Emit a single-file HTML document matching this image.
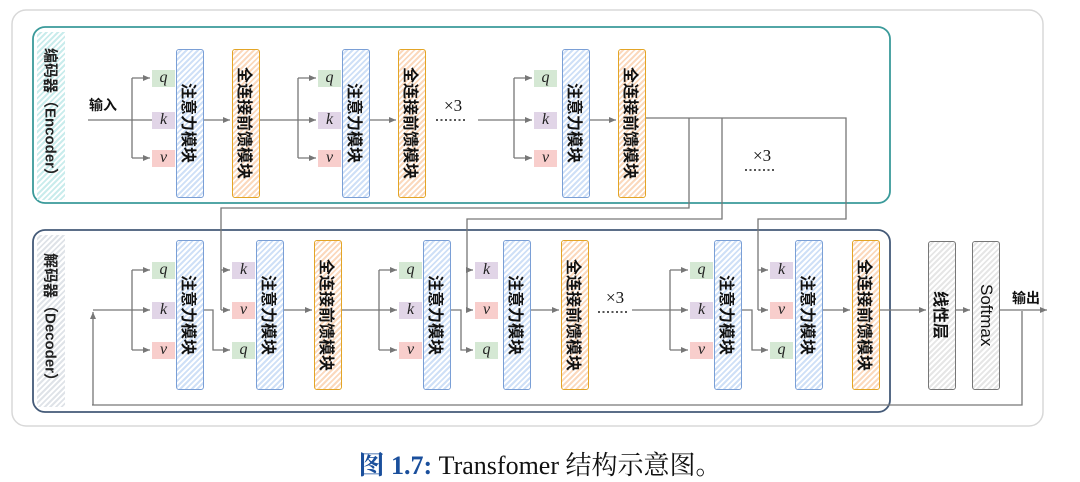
<!DOCTYPE html>
<html><head><meta charset="utf-8"><style>
body{margin:0;background:#fff;width:1080px;height:482px;position:relative;overflow:hidden;font-family:"Liberation Sans","Noto Sans CJK SC",sans-serif}
.b{position:absolute;box-sizing:border-box;border-radius:3px;writing-mode:vertical-rl;text-orientation:sideways;display:flex;align-items:center;justify-content:center;font-size:16px;font-weight:bold;color:#111;letter-spacing:0px}
.at{border:1.5px solid #7a9fd6;background:repeating-linear-gradient(135deg,#fff 0 2px,#cfe0f7 2px 4px)}
.ff{border:1.5px solid #e3a526;background:repeating-linear-gradient(135deg,#fff 0 2px,#fbd9bd 2px 4px)}
.gr{border:1.5px solid #777;background:repeating-linear-gradient(135deg,#fff 0 2px,#e6e6e6 2px 4px)}
.l{position:absolute;width:23px;height:17px;font-family:"Liberation Serif",serif;font-style:italic;font-size:16px;text-align:center;line-height:16px;color:#222}
.q{background:#d5e8d4}.k{background:#e1d5e7}.v{background:#f8cecc}
.side{position:absolute;writing-mode:vertical-rl;text-orientation:sideways;font-size:15px;font-weight:bold;display:flex;align-items:center;justify-content:center;color:#222}
.t{position:absolute;font-size:14px;font-weight:bold;color:#111}
.x3{position:absolute;font-family:"Liberation Serif",serif;font-size:17px;color:#111}
</style></head><body>
<svg width="1080" height="482" style="position:absolute;left:0;top:0">
<defs><marker id="a" markerWidth="8" markerHeight="8" refX="7" refY="4" orient="auto" markerUnits="userSpaceOnUse"><path d="M0,1 L7,4 L0,7 z" fill="#777"/></marker></defs>
<rect x="12" y="10" width="1031" height="416" rx="14" fill="none" stroke="#d8d8d8" stroke-width="1.5"/>
<rect x="33" y="27" width="857" height="176" rx="12" fill="none" stroke="#3a9a9a" stroke-width="1.8"/>
<rect x="33" y="230" width="857" height="182" rx="12" fill="none" stroke="#445a78" stroke-width="1.8"/>
<g stroke="#777" stroke-width="1.3" fill="none">
<path d="M88 120H160" marker-end="url(#a)"/><path d="M132 78V158"/><path d="M132 78H150" marker-end="url(#a)"/><path d="M132 158H150" marker-end="url(#a)"/>
<path d="M204 120H230" marker-end="url(#a)"/>
<path d="M260 120H316" marker-end="url(#a)"/><path d="M298 78V158"/><path d="M298 78H316" marker-end="url(#a)"/><path d="M298 158H316" marker-end="url(#a)"/>
<path d="M370 120H396" marker-end="url(#a)"/>
<path d="M478 120H532" marker-end="url(#a)"/><path d="M514 78V158"/><path d="M514 78H532" marker-end="url(#a)"/><path d="M514 158H532" marker-end="url(#a)"/>
<path d="M589 120H616" marker-end="url(#a)"/>
<path d="M645 118H846V219H758V310"/><path d="M689 118V208H221V310"/><path d="M722 118V219H467V310"/>
<path d="M221 270H230" marker-end="url(#a)"/><path d="M221 310H230" marker-end="url(#a)"/>
<path d="M467 270H473" marker-end="url(#a)"/><path d="M467 310H473" marker-end="url(#a)"/>
<path d="M758 270H768" marker-end="url(#a)"/><path d="M758 310H768" marker-end="url(#a)"/>
<path d="M92 405H1022V311"/><path d="M93 405V312" marker-end="url(#a)"/>
<path d="M93 310H150" marker-end="url(#a)"/><path d="M132 270V350"/><path d="M132 270H150" marker-end="url(#a)"/><path d="M132 350H150" marker-end="url(#a)"/>
<path d="M204 310H213V350H230" marker-end="url(#a)"/>
<path d="M284 310H312" marker-end="url(#a)"/>
<path d="M342 310H397" marker-end="url(#a)"/><path d="M379 270V350"/><path d="M379 270H397" marker-end="url(#a)"/><path d="M379 350H397" marker-end="url(#a)"/>
<path d="M451 310H461V350H473" marker-end="url(#a)"/>
<path d="M531 310H559" marker-end="url(#a)"/>
<path d="M632 310H688" marker-end="url(#a)"/><path d="M670 270V350"/><path d="M670 270H688" marker-end="url(#a)"/><path d="M670 350H688" marker-end="url(#a)"/>
<path d="M742 310H752V350H768" marker-end="url(#a)"/>
<path d="M822 310H850" marker-end="url(#a)"/>
<path d="M880 310H926" marker-end="url(#a)"/>
<path d="M956 310H970" marker-end="url(#a)"/>
<path d="M999 310H1047" marker-end="url(#a)"/>
</g>
<g stroke="#555" stroke-width="2" stroke-dasharray="2 2.5">
<path d="M436 120H467"/><path d="M745 170H776"/><path d="M598 312H629"/>
</g>
</svg>
<div class="side" style="left:37px;top:32px;width:28px;height:168px;background:repeating-linear-gradient(135deg,#fff 0 2px,#c9ecec 2px 4px)">编码器（Encoder）</div>
<div class="side" style="left:37px;top:235px;width:28px;height:172px;background:repeating-linear-gradient(135deg,#fff 0 2px,#dfe3e8 2px 4px)">解码器（Decoder）</div>
<div class="t" style="left:89px;top:95px">输入</div>
<div class="t" style="left:1012px;top:288px">输出</div>
<div class="x3" style="left:444px;top:96px">×3</div>
<div class="x3" style="left:753px;top:146px">×3</div>
<div class="x3" style="left:606px;top:288px">×3</div>

<div class="b at" style="left:176px;top:49px;width:28px;height:149px">注意力模块</div>
<div class="b at" style="left:342px;top:49px;width:28px;height:149px">注意力模块</div>
<div class="b at" style="left:562px;top:49px;width:28px;height:149px">注意力模块</div>
<div class="b ff" style="left:232px;top:49px;width:28px;height:149px">全连接前馈模块</div>
<div class="b ff" style="left:398px;top:49px;width:28px;height:149px">全连接前馈模块</div>
<div class="b ff" style="left:618px;top:49px;width:28px;height:149px">全连接前馈模块</div>

<div class="b at" style="left:176px;top:240px;width:28px;height:150px">注意力模块</div>
<div class="b at" style="left:256px;top:240px;width:28px;height:150px">注意力模块</div>
<div class="b at" style="left:423px;top:240px;width:28px;height:150px">注意力模块</div>
<div class="b at" style="left:503px;top:240px;width:28px;height:150px">注意力模块</div>
<div class="b at" style="left:714px;top:240px;width:28px;height:150px">注意力模块</div>
<div class="b at" style="left:795px;top:240px;width:28px;height:150px">注意力模块</div>
<div class="b ff" style="left:314px;top:240px;width:28px;height:150px">全连接前馈模块</div>
<div class="b ff" style="left:561px;top:240px;width:28px;height:150px">全连接前馈模块</div>
<div class="b ff" style="left:852px;top:240px;width:28px;height:150px">全连接前馈模块</div>
<div class="b gr" style="left:928px;top:241px;width:28px;height:149px">线性层</div>
<div class="b gr" style="left:972px;top:241px;width:28px;height:149px;font-weight:normal;font-size:17px">Softmax</div>

<div class="l q" style="left:152px;top:70px">q</div><div class="l k" style="left:152px;top:112px">k</div><div class="l v" style="left:152px;top:150px">v</div>
<div class="l q" style="left:318px;top:70px">q</div><div class="l k" style="left:318px;top:112px">k</div><div class="l v" style="left:318px;top:150px">v</div>
<div class="l q" style="left:534px;top:70px">q</div><div class="l k" style="left:534px;top:112px">k</div><div class="l v" style="left:534px;top:150px">v</div>

<div class="l q" style="left:152px;top:262px">q</div><div class="l k" style="left:152px;top:302px">k</div><div class="l v" style="left:152px;top:342px">v</div>
<div class="l k" style="left:232px;top:262px">k</div><div class="l v" style="left:232px;top:302px">v</div><div class="l q" style="left:232px;top:342px">q</div>
<div class="l q" style="left:399px;top:262px">q</div><div class="l k" style="left:399px;top:302px">k</div><div class="l v" style="left:399px;top:342px">v</div>
<div class="l k" style="left:475px;top:262px">k</div><div class="l v" style="left:475px;top:302px">v</div><div class="l q" style="left:475px;top:342px">q</div>
<div class="l q" style="left:690px;top:262px">q</div><div class="l k" style="left:690px;top:302px">k</div><div class="l v" style="left:690px;top:342px">v</div>
<div class="l k" style="left:770px;top:262px">k</div><div class="l v" style="left:770px;top:302px">v</div><div class="l q" style="left:770px;top:342px">q</div>

<div style="position:absolute;left:0;width:1080px;top:445px;text-align:center;font-family:'Liberation Serif','Noto Serif CJK SC',serif;font-size:26px;color:#111"><b style="color:#1a4f9c">图 1.7:</b> Transfomer 结构示意图。</div>
</body></html>
